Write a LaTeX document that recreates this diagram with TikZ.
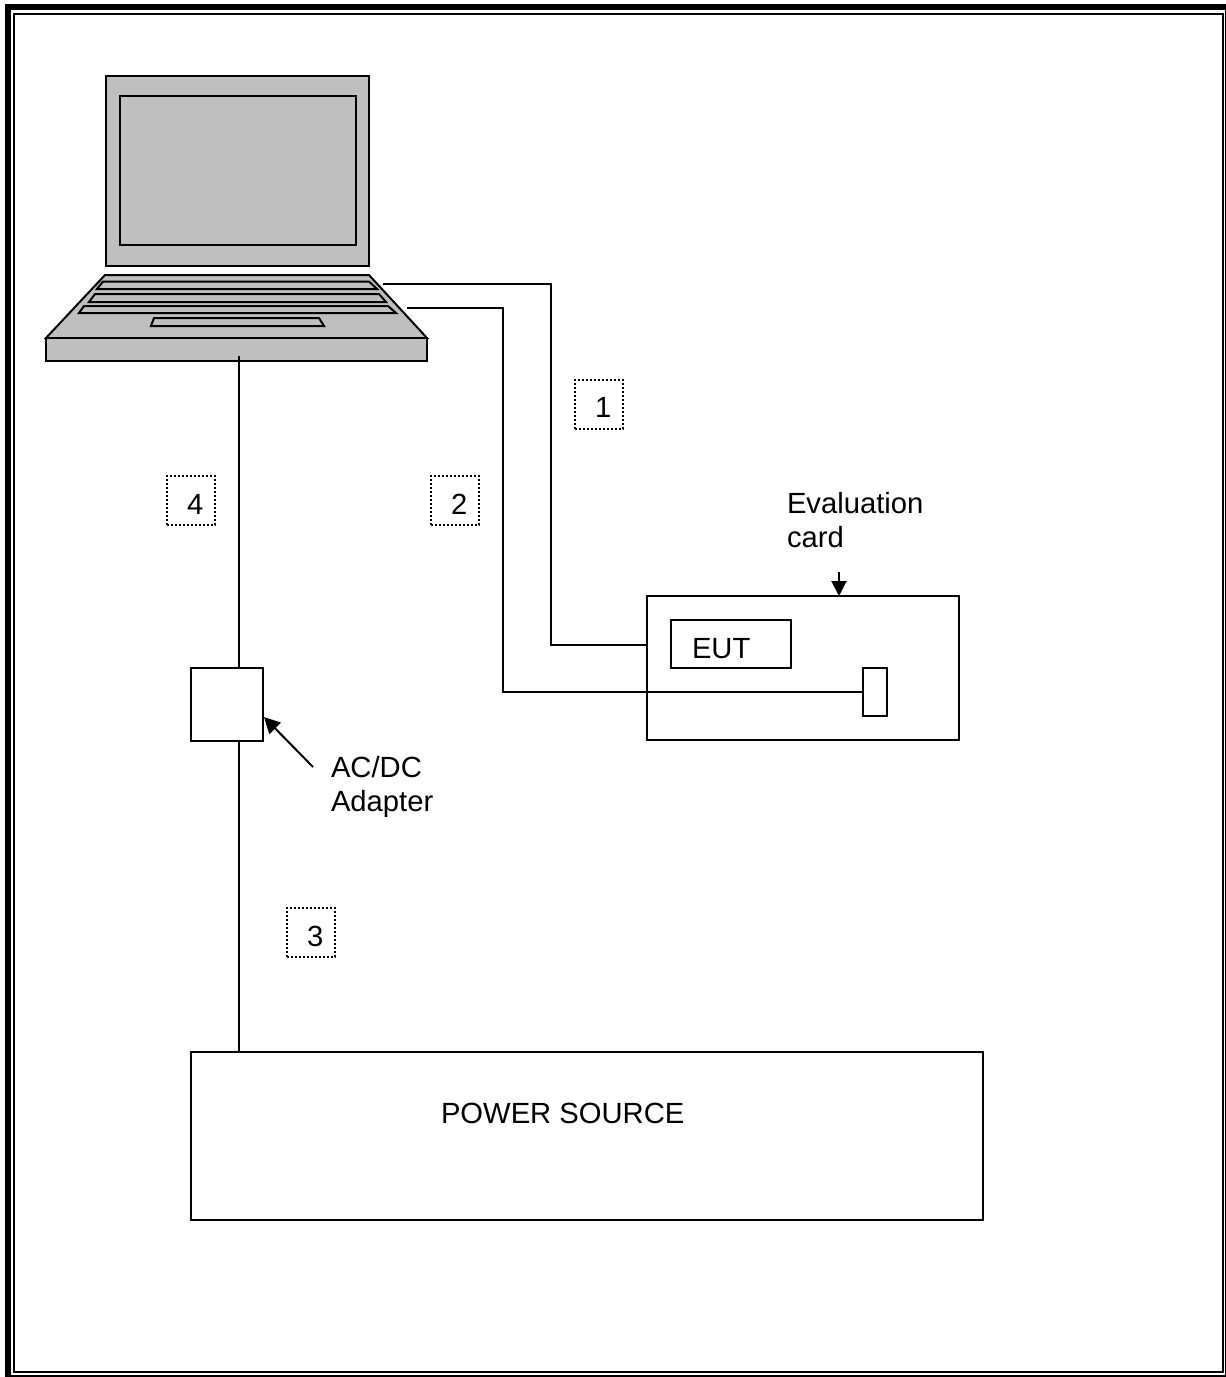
\documentclass[tikz,border=0pt]{standalone}
\usepackage{fontspec}
\setmainfont{Liberation Sans}
\usetikzlibrary{arrows.meta}
\tikzset{
  wire/.style={line width=2pt,black},
  boxnode/.style={draw=black,line width=2pt,fill=white,inner sep=0pt,outer sep=0pt,minimum width=#1},
  numbox/.style={draw=black,line width=1.6pt,dash pattern=on 2pt off 2pt,inner sep=0pt,outer sep=0pt,minimum width=48pt,minimum height=49pt},
  lbl/.style={anchor=base west,inner sep=0pt,outer sep=0pt,font=\fontsize{29.2}{35}\selectfont},
  body/.style={draw=black,line width=2pt,fill=laptopgray,line join=miter},
  pointer/.style={line width=2pt,-{Triangle[length=#1,width=#1]}},
}
\definecolor{laptopgray}{HTML}{BFBFBF}
\begin{document}
\begin{tikzpicture}[x=1pt,y=-1pt]
\useasboundingbox (0,0) rectangle (1226,1377);
\clip (0,0) rectangle (1226,1377);
\fill[white] (0,0) rectangle (1226,1377);
% frame
\draw[line width=6pt,black] (8,7) rectangle (1228,1378);
\draw[line width=2pt,black] (14,14) rectangle (1223,1372);
% laptop
\draw[body] (106,76) rectangle (369,266);
\draw[body] (120,96) rectangle (356,245);
\draw[body] (105,275) -- (369,275) -- (427,338) -- (46,338) -- cycle;
\draw[body] (46,338) rectangle (427,361);
\draw[body] (103,281.5) -- (369,281.5) -- (377,289) -- (97,289) -- cycle;
\draw[body] (95,294) -- (379,294) -- (386,302) -- (89,302) -- cycle;
\draw[body] (84,306) -- (388,306) -- (396,313) -- (79,313) -- cycle;
\draw[body] (154,318) -- (319,318) -- (324,326) -- (151,326) -- cycle;
% nodes
\node[boxnode=312pt,minimum height=144pt] (card) at (803,668) {};
\node[boxnode=120pt,minimum height=48pt] (eut) at (731,644) {};
\node[boxnode=24pt,minimum height=48pt] (plug) at (875,692) {};
\node[boxnode=72pt,minimum height=73pt] (adapter) at (227,704.5) {};
\node[boxnode=792pt,minimum height=168pt] (power) at (587,1136) {};
\coordinate (port1) at (383,284);
\coordinate (bend1) at (551,284);
\coordinate (cardin) at (647,645);
\coordinate (port2) at (407,308);
\coordinate (bend2) at (503,308);
\coordinate (port4) at (239,356);
\coordinate (adapterTip) at (264,717);
\coordinate (adapterTail) at (313,767);
\coordinate (cardTail) at (839,572);
\coordinate (cardTip) at (839,596);
% connectors
\draw[wire] (port1) -- (bend1) |- (cardin);
\draw[wire] (port2) -- (bend2) |- (plug.west);
\draw[wire] (port4) -- (port4 |- adapter.north);
\draw[wire] (port4 |- adapter.south) -- (port4 |- power.north);
\draw[pointer=16pt] (adapterTail) -- (adapterTip);
\draw[pointer=15pt] (cardTail) -- (cardTip);
% numbered boxes
\node[numbox] (n1) at (599,404.5) {};
\node[numbox] (n2) at (455,500.5) {};
\node[numbox] (n4) at (191,500.5) {};
\node[numbox] (n3) at (311,932.5) {};
\node[lbl] (t1) at (595,417) {1};
\node[lbl] (t2) at (451,514) {2};
\node[lbl] (t4) at (187,514) {4};
\node[lbl] (t3) at (307,946) {3};
% labels
\node[lbl] (evala) at (787,513) {Evaluation};
\node[lbl] (evalb) at (787,547) {card};
\node[lbl] (acdc) at (331,777) {AC/DC};
\node[lbl] (adapt) at (331,811) {Adapter};
\node[lbl] (eutl) at (692,658) {EUT};
\node[lbl] (powerl) at (441,1123) {POWER SOURCE};
\end{tikzpicture}
\end{document}
